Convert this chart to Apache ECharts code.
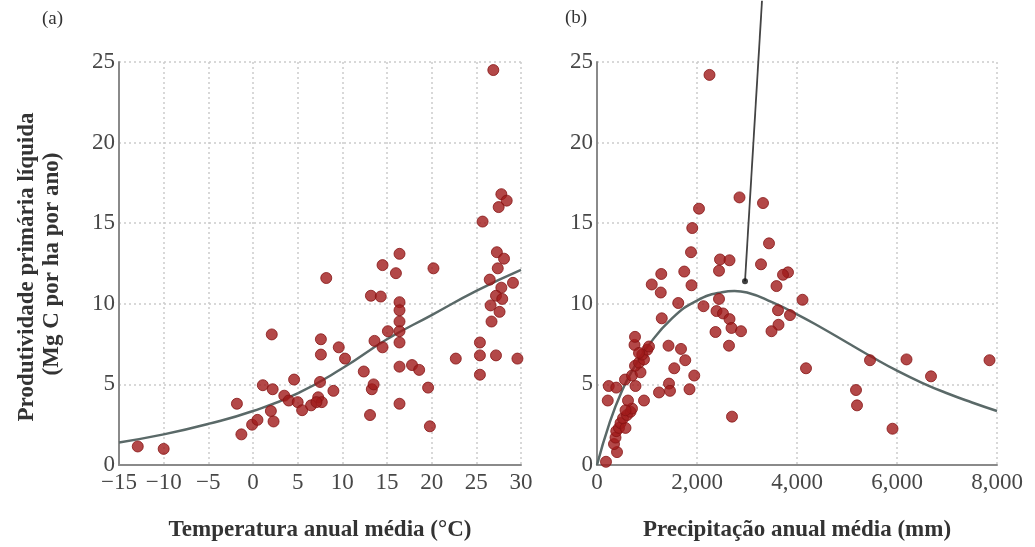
<!DOCTYPE html>
<html>
<head>
<meta charset="utf-8">
<script src="https://cdn.jsdelivr.net/npm/echarts@6/dist/echarts.min.js"></script>
<style>
html,body{margin:0;padding:0;background:#fff;}
#chart{width:1035px;height:547px;}
</style>
</head>
<body>
<div id="chart"></div>
<script>
// ---- Data (a): temperature vs NPP ----
const tempPoints = [
  [-12.9,1.15],[-10.0,1.0],[-1.8,3.8],[-1.3,1.9],[-0.1,2.5],[0.5,2.8],[1.1,4.95],[2.2,4.7],
  [2.1,8.1],[2.0,3.35],[2.3,2.7],[3.5,4.3],[4.0,4.0],[4.6,5.3],[5.0,3.9],[5.5,3.4],[6.5,3.7],
  [7.3,4.2],[7.6,7.8],[7.6,6.85],[7.5,5.15],[7.7,3.9],[7.1,3.9],[8.2,11.6],[9.0,4.6],[9.6,7.3],
  [10.3,6.6],[12.4,5.8],[13.1,3.1],[13.3,4.7],[13.5,5.0],[13.2,10.5],[14.3,10.45],[13.6,7.7],
  [14.5,7.3],[15.1,8.3],[14.5,12.4],[16.0,11.9],[16.4,13.1],[16.4,10.1],[16.4,9.6],[16.4,8.9],
  [16.4,8.3],[16.4,7.6],[16.4,6.1],[16.4,3.8],[17.8,6.2],[18.6,5.9],[19.6,4.8],[19.8,2.4],
  [20.2,12.2],[22.7,6.6],[25.4,7.6],[25.4,6.8],[25.4,5.6],[26.5,11.5],[26.6,9.9],[26.7,8.9],
  [27.2,6.8],[27.3,13.2],[28.1,12.8],[27.4,12.2],[27.8,11.0],[29.1,11.3],[27.2,10.5],[27.9,10.3],
  [27.6,9.5],[29.6,6.6],[25.7,15.1],[27.5,16.0],[27.8,16.8],[28.4,16.4],[26.9,24.5]
];
const tempCurve = [
  [-15,1.4],[-10,1.9],[-5,2.55],[0,3.35],[5,4.45],[10,6.0],[15,7.8],[20,9.3],[25,10.8],[30,12.1]
];

// ---- Data (b): precipitation vs NPP ----
const precPoints = [
  [2250,24.2],[2850,16.6],[3320,16.25],[2040,15.9],[1905,14.7],[3440,13.75],[1880,13.2],
  [2460,12.75],[2650,12.7],[3280,12.45],[1745,12.0],[2440,12.05],[1285,11.85],[3820,11.95],
  [3720,11.8],[3590,11.1],[1890,11.15],[1095,11.2],[1275,10.7],[4110,10.25],[2440,10.3],
  [2130,9.85],[1625,10.05],[2390,9.55],[2520,9.4],[2650,9.05],[2690,8.5],[2880,8.3],[2370,8.25],
  [2640,7.4],[3620,9.6],[3860,9.3],[3630,8.7],[3490,8.3],[1295,9.1],[2700,3.0],
  [4180,6.0],[5180,4.65],[5200,3.7],[5460,6.5],[5910,2.25],[6190,6.55],[6680,5.5],[7850,6.5],
  [1240,4.5],[1440,5.05],[1460,4.6],[1850,4.7],[1430,7.4],[1680,7.2],[1765,6.5],[1545,6.0],[1945,5.55],
  [180,0.2],[400,0.8],[340,1.3],[370,1.7],[385,2.1],[440,2.3],[470,2.6],[570,2.3],[520,2.9],
  [600,3.1],[670,3.3],[700,3.5],[570,3.4],[620,4.0],[215,4.0],[235,4.9],[385,4.8],[560,5.3],
  [770,4.9],[940,4.0],[700,5.55],[870,5.75],[760,6.15],[840,6.35],[940,6.55],[905,6.85],
  [1005,7.15],[1040,7.35],[750,7.45],[760,7.95],[840,6.95]
];
const precCurve = [
  [0,0],[250,2.6],[500,4.6],[750,6.1],[1000,7.3],[1500,9.1],[2000,10.2],[2500,10.72],
  [2750,10.8],[3000,10.7],[3500,10.1],[4000,9.35],[4500,8.5],[5000,7.6],[5500,6.7],
  [6000,5.85],[6500,5.1],[7000,4.45],[7500,3.88],[8000,3.35]
];
// annotation leader line (from top of figure down to the marker above the curve's peak)
const leaderLine = [[3300,28.8],[2960,11.4]];
const leaderDot = [[2960,11.4]];

// ---- Text ----
const panelLabels = ['(a)','(b)'];
const yTitle = ['Produtividade primária líquida','(Mg C por ha por ano)'];
const xTitles = ['Temperatura anual média (°C)','Precipitação anual média (mm)'];

const FONT = '"Liberation Serif","DejaVu Serif",serif';
const dotColor = '#a01a1a';
const curveColor = '#5a6968';
const gridLine = {show:true, lineStyle:{color:'#cbcbcb', type:[2,3], width:1.5}};
const tickLabel = {color:'#474747', fontFamily:FONT, fontSize:23};
const titleStyle = {fontFamily:FONT, fontWeight:'bold', fontSize:23, color:'#333'};

function yAxisCfg(gi){
  return {
    gridIndex: gi, type:'value', min:0, max:25, interval:5,
    axisLine:{show:true, onZero:false, lineStyle:{color:'#8a8a8a', width:2}},
    axisTick:{show:false},
    axisLabel:Object.assign({margin:4}, tickLabel),
    splitLine:gridLine
  };
}

const chart = echarts.init(document.getElementById('chart'), null, {renderer:'canvas'});
chart.setOption({
  backgroundColor:'#ffffff',
  animation:false,
  grid:[
    {left:119, top:62, width:402, height:410},
    {left:597, top:62, width:400, height:410}
  ],
  xAxis:[
    {gridIndex:0, type:'value', min:-15, max:30, interval:5,
     name:xTitles[0], nameLocation:'middle', nameGap:54, nameTextStyle:titleStyle,
     axisLine:{onZero:false, lineStyle:{color:'#8a8a8a', width:2}},
     axisTick:{show:false},
     axisLabel:Object.assign({margin:6, formatter:v=> String(v).replace('-','\u2212')}, tickLabel),
     splitLine:gridLine},
    {gridIndex:1, type:'value', min:0, max:8000, interval:2000,
     name:xTitles[1], nameLocation:'middle', nameGap:54, nameTextStyle:titleStyle,
     axisLine:{onZero:false, lineStyle:{color:'#8a8a8a', width:2}},
     axisTick:{show:false},
     axisLabel:Object.assign({margin:6, formatter:v=> v===0 ? '0' : v.toLocaleString('en-US')}, tickLabel),
     splitLine:gridLine}
  ],
  yAxis:[yAxisCfg(0), yAxisCfg(1)],
  graphic:[
    {type:'text', left:42, top:10, style:{text:panelLabels[0], font:'19px '+FONT, fill:'#333'}},
    {type:'text', left:565, top:9, style:{text:panelLabels[1], font:'19px '+FONT, fill:'#333'}},
    {type:'text', x:27, y:267, rotation:Math.PI/2,
     style:{text:yTitle[0], font:'bold 23px '+FONT, fill:'#333', align:'center', verticalAlign:'middle'}},
    {type:'text', x:52, y:264, rotation:Math.PI/2,
     style:{text:yTitle[1], font:'bold 23px '+FONT, fill:'#333', align:'center', verticalAlign:'middle'}}
  ],
  series:[
    {type:'line', xAxisIndex:0, yAxisIndex:0, data:tempCurve, smooth:true, showSymbol:false,
     lineStyle:{color:curveColor, width:2.5}, z:3},
    {type:'scatter', xAxisIndex:0, yAxisIndex:0, data:tempPoints, symbolSize:11,
     itemStyle:{color:dotColor, borderColor:'#861414', borderWidth:1}, z:4},
    {type:'line', xAxisIndex:1, yAxisIndex:1, data:precCurve, smooth:true, showSymbol:false,
     lineStyle:{color:curveColor, width:2.5}, z:3},
    {type:'scatter', xAxisIndex:1, yAxisIndex:1, data:precPoints, symbolSize:11,
     itemStyle:{color:dotColor, borderColor:'#861414', borderWidth:1}, z:4},
    {type:'line', xAxisIndex:1, yAxisIndex:1, data:leaderLine, clip:false, showSymbol:false,
     lineStyle:{color:'#444', width:1.8}, z:5},
    {type:'scatter', xAxisIndex:1, yAxisIndex:1, data:leaderDot, symbolSize:6, clip:false,
     itemStyle:{color:'#111'}, z:6}
  ]
});
</script>
</body>
</html>
